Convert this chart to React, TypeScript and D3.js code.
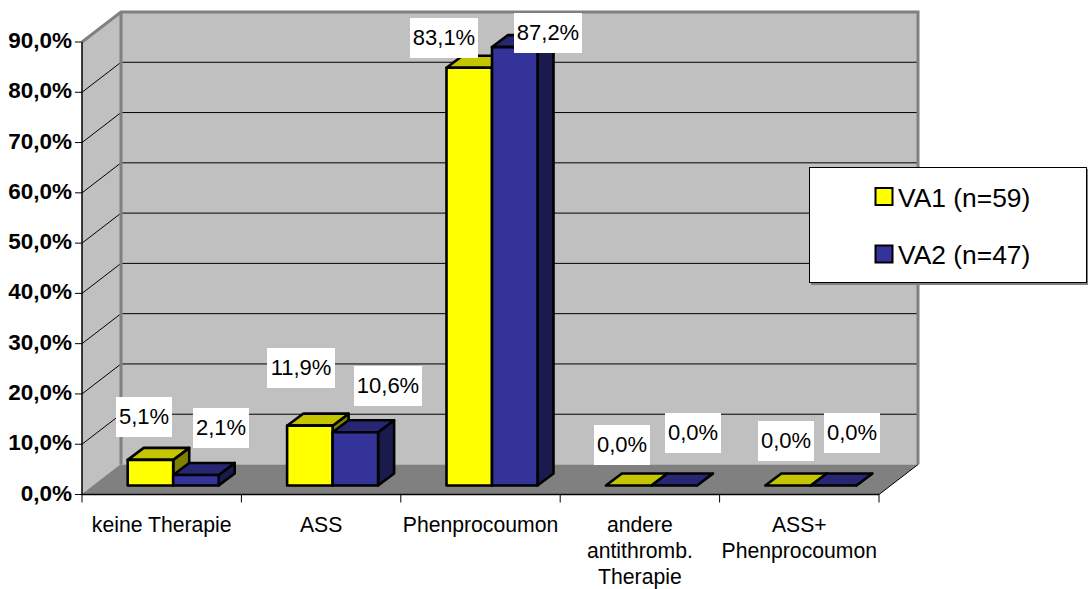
import React from "react";
import * as d3 from "d3";

const categories = ["keine Therapie", "ASS", "Phenprocoumon", "andere antithromb. Therapie", "ASS+ Phenprocoumon"];
const categoryLines = [["keine Therapie"], ["ASS"], ["Phenprocoumon"], ["andere", "antithromb.", "Therapie"], ["ASS+", "Phenprocoumon"]];
const seriesNames = ["VA1 (n=59)", "VA2 (n=47)"];
const va1 = [5.1, 11.9, 83.1, 0, 0];
const va2 = [2.1, 10.6, 87.2, 0, 0];
const yTicks = [0, 10, 20, 30, 40, 50, 60, 70, 80, 90];

// label box centres, placed by hand in the reference
const labelCentersVa1 = [[144, 417], [301, 368], [444, 38], [622, 445], [786, 441]];
const labelCentersVa2 = [[221, 428], [388, 386], [548, 33], [693, 433], [852, 433]];

const fmt = (v: number) => v.toFixed(1).replace(".", ",") + "%";

const palette = [
  { front: "#FFFF00", top: "#C4C400", side: "#808000" },
  { front: "#333399", top: "#262673", side: "#1A1A4D" },
];

export default function App() {
  const left = 82, right = 879, depthX = 39, depthY = -30;
  const y = d3.scaleLinear().domain([0, 90]).range([494.5, 42]);
  const x = d3.scaleBand<string>().domain(categories).range([left, right]);
  const bw = 45.5;
  const gap = (x.bandwidth() - bw * 2) / 2;
  const bdx = 16, bdy = -12;
  const ox = (depthX - bdx) / 2, oy = (depthY - bdy) / 2;
  const font = "'Liberation Sans', Arial, sans-serif";
  const line = d3.line();
  const poly = (p: [number, number][]) => line(p)! + "Z";
  const backL = left + depthX, backR = right + depthX;
  const y0 = y(0), yTop = y(90);

  const bars = categories.flatMap((c, i) =>
    [va1, va2].map((s, j) => {
      const x0 = x(c)! + gap + ox + j * bw;
      const x1 = x0 + bw;
      const base = y0 + oy;
      const t = base - (y0 - y(s[i]));
      const col = palette[j];
      return (
        <g key={c + j} stroke="#000" strokeWidth={2.6} strokeLinejoin="round">
          <path d={poly([[x1, t], [x1 + bdx, t + bdy], [x1 + bdx, base + bdy], [x1, base]])} fill={col.side} />
          <path d={poly([[x0, t], [x1, t], [x1 + bdx, t + bdy], [x0 + bdx, t + bdy]])} fill={col.top} />
          <rect x={x0} y={t} width={bw} height={base - t} fill={col.front} />
        </g>
      );
    })
  );

  const labels = [
    ...va1.map((v, i) => ({ v, c: labelCentersVa1[i], k: "a" + i })),
    ...va2.map((v, i) => ({ v, c: labelCentersVa2[i], k: "b" + i })),
  ];

  return (
    <svg width={1088} height={589} style={{ position: "absolute", left: 0, top: 0, background: "#fff" }} fontFamily={font}>
      <path d={poly([[left, yTop], [backL, yTop + depthY], [backL, y0 + depthY], [left, y0]])} fill="#C0C0C0" />
      <rect x={backL} y={yTop + depthY} width={right - left} height={y0 - yTop} fill="#C0C0C0" />
      <path d={poly([[left, y0], [backL, y0 + depthY], [backR, y0 + depthY], [right, y0]])} fill="#808080" />
      {yTicks.slice(1, -1).map((t) => (
        <path key={t} d={line([[left, y(t)], [backL, y(t) + depthY], [backR, y(t) + depthY]])!} fill="none" stroke="#000" strokeWidth={1} />
      ))}
      <path
        d={line([[left, yTop], [backL, yTop + depthY], [backR, yTop + depthY], [backR, y0 + depthY]])!}
        fill="none" stroke="#808080" strokeWidth={3} />
      <path d={line([[backL, yTop + depthY], [backL, y0 + depthY]])!} fill="none" stroke="#808080" strokeWidth={3} />
      <path d={line([[left, y0], [backL, y0 + depthY]])!} fill="none" stroke="#808080" strokeWidth={1} />
      <path d={line([[right, y0], [backR, y0 + depthY]])!} fill="none" stroke="#000" strokeWidth={1} />
      {bars}
      {/* axes */}
      <path d={line([[left, yTop], [left, y0], [right, y0]])!} fill="none" stroke="#000" strokeWidth={1.5} />
      {yTicks.map((t) => (
        <g key={t}>
          <line x1={left - 7} x2={left} y1={y(t)} y2={y(t)} stroke="#000" strokeWidth={1} />
          <text x={72} y={y(t) + 6} textAnchor="end" fontWeight="bold" fontSize={22.5} fill="#000">{fmt(t)}</text>
        </g>
      ))}
      {[...categories.map((c) => x(c)!), right].map((p, i) => (
        <line key={i} x1={p} x2={p} y1={y0} y2={y0 + 8} stroke="#000" strokeWidth={1} />
      ))}
      {categories.map((c, i) => (
        <text key={c} textAnchor="middle" fontSize={21.2} fill="#000">
          {categoryLines[i].map((l, k) => (
            <tspan key={k} x={x(c)! + x.bandwidth() / 2} y={532 + k * 26.2}>{l}</tspan>
          ))}
        </text>
      ))}
      {labels.map(({ v, c, k }) => {
        const w = v >= 10 ? 68 : 56;
        return (
          <g key={k}>
            <rect x={c[0] - w / 2} y={c[1] - 20} width={w} height={40} fill="#fff" />
            <text x={c[0]} y={c[1] + 7} textAnchor="middle" fontSize={22} fill="#000">{fmt(v)}</text>
          </g>
        );
      })}
      {/* legend */}
      <rect x={811} y={169} width={277} height={116} fill="#808080" />
      <rect x={809.5} y={167.5} width={277} height={115} fill="#fff" stroke="#000" strokeWidth={1} />
      {seriesNames.map((s, i) => (
        <g key={s}>
          <rect x={875.5} y={188 + i * 57.5} width={17} height={17} fill={palette[i].front} stroke="#000" strokeWidth={2} />
          <text x={898} y={206.5 + i * 57.5} fontSize={26.4} fill="#000">{s}</text>
        </g>
      ))}
    </svg>
  );
}
